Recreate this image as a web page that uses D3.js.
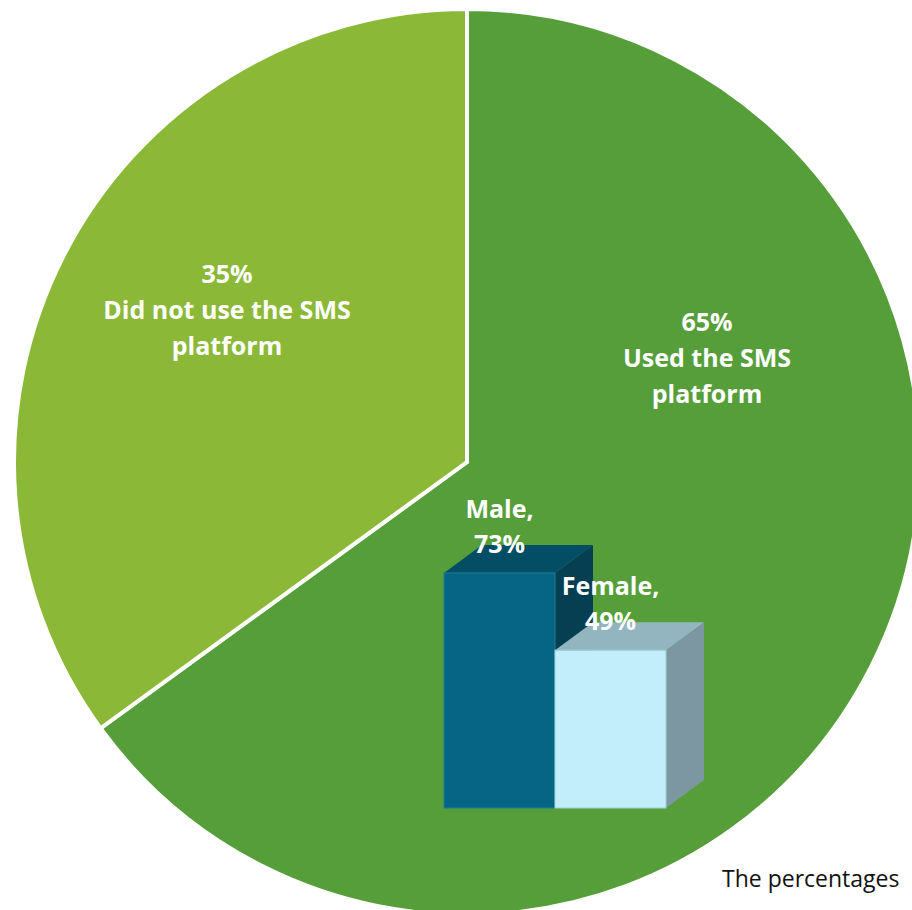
<!DOCTYPE html>
<html>
<head>
<meta charset="utf-8">
<script src="https://cdn.jsdelivr.net/npm/d3@7"></script>
<style>
  html, body { margin: 0; padding: 0; background: #fff; }
  svg { display: block; }
</style>
</head>
<body>
<svg id="chart" width="912" height="910"></svg>
<script>
// Platform usage (pie)
const usageLabels = ["Used the SMS platform", "Did not use the SMS platform"];
const usageValues = [65, 35];
const usageColors = ["#559E3A", "#8CB838"];

// Usage by gender (3D columns)
const genderCategories = ["Male", "Female"];
const genderValues = [73, 49];
const genderFront = ["#066584", "#C2EEFC"];
const genderTop = ["#034E64", "#93B5C0"];
const genderSide = ["#063F52", "#7D97A2"];

const footnote = "The percentages";

const svg = d3.select("#chart");
const cx = 467, cy = 462, radius = 453;

// ---- Pie ----
const pie = d3.pie().sort(null).value(d => d)(usageValues);
const arc = d3.arc().innerRadius(0).outerRadius(radius);
const pieG = svg.append("g").attr("transform", `translate(${cx},${cy})`);
pieG.selectAll("path")
  .data(pie)
  .join("path")
  .attr("d", arc)
  .attr("fill", (d, i) => usageColors[i])
  .attr("stroke", "#fff")
  .attr("stroke-width", 4)
  .attr("stroke-linejoin", "miter");

const labelFont = "'Open Sans', Lato, sans-serif";
function multiline(g, lines, x, y, lh, size) {
  const t = g.append("text")
    .attr("x", x).attr("y", y)
    .attr("text-anchor", "middle")
    .attr("fill", "#fff")
    .attr("font-family", labelFont)
    .attr("font-weight", 700)
    .attr("font-size", size);
  lines.forEach((s, i) => t.append("tspan").attr("x", x).attr("y", y + i * lh).text(s));
}

// Slice labels
multiline(svg, [usageValues[0] + "%", "Used the SMS", "platform"], 707, 331, 36, 25);
multiline(svg, [usageValues[1] + "%", "Did not use the SMS", "platform"], 227, 283, 36, 25);

// ---- 3D columns ----
const x = d3.scaleBand().domain(genderCategories).range([444, 666]).padding(0);
const y = d3.scaleLinear().domain([0, 100]).range([808, 486]);
const dx = 38, dy = -28;
const bars = svg.append("g");

genderCategories.forEach((c, i) => {
  const x0 = x(c), x1 = x(c) + x.bandwidth();
  const yt = y(genderValues[i]), yb = y(0);
  // side face
  bars.append("path")
    .attr("d", `M${x1},${yt} L${x1 + dx},${yt + dy} L${x1 + dx},${yb + dy} L${x1},${yb} Z`)
    .attr("fill", genderSide[i]);
  // top face
  bars.append("path")
    .attr("d", `M${x0},${yt} L${x0 + dx},${yt + dy} L${x1 + dx},${yt + dy} L${x1},${yt} Z`)
    .attr("fill", genderTop[i]);
  // front face
  bars.append("rect")
    .attr("x", x0).attr("y", yt)
    .attr("width", x.bandwidth()).attr("height", yb - yt)
    .attr("fill", genderFront[i])
    .attr("stroke", i === 0 ? "#1F7A96" : "#9FCFDC")
    .attr("stroke-width", 1);
});

genderCategories.forEach((c, i) => {
  const xc = x(c) + x.bandwidth() / 2;
  const yt = y(genderValues[i]);
  multiline(svg, [c + ",", genderValues[i] + "%"], xc, yt - 55, 35, 25);
});

// Footnote
svg.append("text")
  .attr("x", 722).attr("y", 887)
  .attr("fill", "#111")
  .attr("font-family", labelFont)
  .attr("font-size", 23)
  .text(footnote);
</script>
</body>
</html>
